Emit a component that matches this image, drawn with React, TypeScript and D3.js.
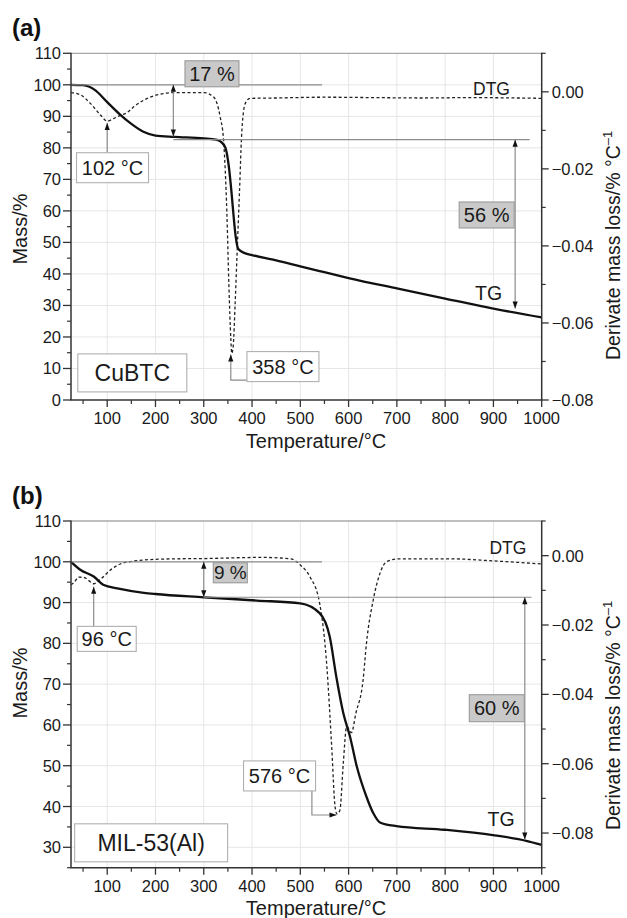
import * as d3 from "d3";

const FONT = "'Liberation Sans', Arial, Helvetica, sans-serif";

// shared temperature axis
const tempDomain = [25, 1000];
const tempMajor = [100, 200, 300, 400, 500, 600, 700, 800, 900, 1000];
const tempMinor = [50, 150, 250, 350, 450, 550, 650, 750, 850, 950];

// (a) CuBTC - TG curve
const tgTempA = [25, 50, 75, 100, 125, 150, 175, 200, 240, 300, 325, 335, 345, 352, 358, 362, 366, 372, 385, 400, 450, 500, 540, 600, 700, 800, 900, 1000];
const tgMassA = [100, 99.9, 98.3, 94.5, 90.8, 87.6, 85.1, 83.9, 83.5, 83.0, 82.6, 82, 80, 74, 65, 58, 52, 47.8, 46.6, 46, 44.3, 42.4, 40.9, 38.7, 35.4, 32.2, 29, 26.2];
// (a) CuBTC - DTG curve
const dtgTempA = [25, 45, 65, 86, 100, 114, 127, 140, 155, 183, 210, 240, 300, 320, 334, 341, 348, 352, 356, 358, 361, 365, 369, 374, 379, 386, 396, 450, 550, 650, 750, 850, 950, 1000];
const dtgValA = [-0.0002, -0.0008, -0.003, -0.006, -0.0076, -0.0069, -0.0061, -0.0055, -0.0039, -0.0017, -0.0006, -0.0002, -0.0002, -0.0013, -0.0065, -0.0125, -0.032, -0.05, -0.064, -0.0679, -0.066, -0.055, -0.042, -0.026, -0.0099, -0.003, -0.0017, -0.0016, -0.0014, -0.0015, -0.0016, -0.0015, -0.0016, -0.0017];

// (b) MIL-53(Al) - TG curve
const tgTempB = [25, 45, 72, 93, 121, 176, 200, 300, 410, 500, 540, 561, 575, 589, 603, 617, 637, 651, 665, 699, 799, 899, 968, 1000];
const tgMassB = [100, 98, 96.4, 94.3, 93.5, 92.4, 92.1, 91.3, 90.5, 89.8, 87.4, 81.6, 71.5, 62.9, 57.1, 49.8, 42.4, 38.4, 36.1, 35.2, 34.3, 33, 31.6, 30.6];
// (b) MIL-53(Al) - DTG curve
const dtgTempB = [25, 31, 41, 52, 62, 72, 86, 107, 127, 148, 210, 313, 417, 480, 500, 520, 540, 555, 565, 572, 576, 582, 589, 596, 606, 615, 630, 637, 651, 665, 679, 706, 809, 899, 1000];
const dtgValB = [-0.0084, -0.0078, -0.0062, -0.0063, -0.0072, -0.0081, -0.0068, -0.0041, -0.0024, -0.0017, -0.001, -0.0008, -0.0005, -0.0009, -0.0027, -0.0061, -0.0137, -0.032, -0.0551, -0.0724, -0.0745, -0.0734, -0.0599, -0.0493, -0.051, -0.0455, -0.0359, -0.0253, -0.0128, -0.0051, -0.0017, -0.0009, -0.0009, -0.0015, -0.0024];

// axis ticks
const massMajorA = [0, 10, 20, 30, 40, 50, 60, 70, 80, 90, 100, 110];
const massMinorA = [5, 15, 25, 35, 45, 55, 65, 75, 85, 95, 105];
const dtgMajorA = [-0.08, -0.06, -0.04, -0.02, 0];
const dtgMinorA = [-0.07, -0.05, -0.03, -0.01, 0.01];
const massMajorB = [30, 40, 50, 60, 70, 80, 90, 100, 110];
const massMinorB = [25, 35, 45, 55, 65, 75, 85, 95, 105];
const dtgMajorB = [-0.08, -0.06, -0.04, -0.02, 0];
const dtgMinorB = [-0.09, -0.07, -0.05, -0.03, -0.01, 0.01];

const X0 = 71;
const X1 = 541.7;
const H = 346.7;

type Pt = [number, number];

function Arrow({ pts, start = false, end = true }: { pts: Pt[]; start?: boolean; end?: boolean }) {
  const head = (tip: Pt, from: Pt) => {
    const dx = tip[0] - from[0];
    const dy = tip[1] - from[1];
    const len = Math.hypot(dx, dy) || 1;
    const ux = dx / len, uy = dy / len;
    const bx = tip[0] - ux * 7, by = tip[1] - uy * 7;
    return `M${tip[0]},${tip[1]}L${bx - uy * 2.6},${by + ux * 2.6}L${bx + uy * 2.6},${by - ux * 2.6}Z`;
  };
  return (
    <g>
      <polyline points={pts.map((p) => p.join(",")).join(" ")} fill="none" stroke="#8c8c8c" strokeWidth={1.2} />
      {end && <path d={head(pts[pts.length - 1], pts[pts.length - 2])} fill="#111" />}
      {start && <path d={head(pts[0], pts[1])} fill="#111" />}
    </g>
  );
}

function Box({ cx, cy, w, h, text, gray = false, size = 20 }: { cx: number; cy: number; w: number; h: number; text: string; gray?: boolean; size?: number }) {
  return (
    <g>
      <rect x={cx - w / 2} y={cy - h / 2} width={w} height={h} fill={gray ? "#c9c9c9" : "#fff"} stroke={gray ? "#9a9a9a" : "#b0b0b0"} strokeWidth={1.1} />
      <text x={cx} y={cy} textAnchor="middle" dominantBaseline="central" fontSize={size} fill="#1a1a1a">{text}</text>
    </g>
  );
}

type Scales = { x: d3.ScaleLinear<number, number>; y: d3.ScaleLinear<number, number>; r: d3.ScaleLinear<number, number> };

function Panel(props: {
  top: number; letter: string; massDomain: number[]; dtgDomain: number[];
  massMajor: number[]; massMinor: number[]; dtgMajor: number[]; dtgMinor: number[];
  tgT: number[]; tgM: number[]; dtgT: number[]; dtgV: number[];
  titleMassY: number; titleDtgY: number;
  notes: (s: Scales) => any;
}) {
  const { top } = props;
  const bottom = top + H;
  const x = d3.scaleLinear().domain(tempDomain).range([X0, X1]);
  const y = d3.scaleLinear().domain(props.massDomain).range([bottom, top]);
  const r = d3.scaleLinear().domain(props.dtgDomain).range([bottom, top]);
  const fmt = d3.format(".2f");

  const tgLine = d3.line<number>().x((d, i) => x(props.tgT[i])).y((d) => y(d)).curve(d3.curveMonotoneX);
  const dtgLine = d3.line<number>().x((d, i) => x(props.dtgT[i])).y((d) => r(d)).curve(d3.curveMonotoneX);

  return (
    <g>
      <text x={12} y={top - 17} fontSize={24} fontWeight="bold" fill="#111">{props.letter}</text>

      {/* grid */}
      {tempMajor.filter((t) => t < 1000).map((t) => (
        <line key={"gx" + t} x1={x(t)} x2={x(t)} y1={top} y2={bottom} stroke="#e6e6e6" strokeWidth={1} />
      ))}
      {props.massMajor.filter((m) => m > props.massDomain[0] && m < props.massDomain[1]).map((m) => (
        <line key={"gy" + m} x1={X0} x2={X1} y1={y(m)} y2={y(m)} stroke="#e6e6e6" strokeWidth={1} />
      ))}
      <line x1={X0} x2={X1} y1={top} y2={top} stroke="#a8a8a8" strokeWidth={1.3} />

      {/* curves */}
      <path d={dtgLine(props.dtgV) || ""} fill="none" stroke="#222" strokeWidth={1.3} strokeDasharray="3 2.4" />
      <path d={tgLine(props.tgM) || ""} fill="none" stroke="#111" strokeWidth={2.3} />

      {props.notes({ x, y, r })}

      {/* left axis */}
      <line x1={X0} x2={X0} y1={top - 0.5} y2={bottom} stroke="#333" strokeWidth={1.5} />
      {props.massMajor.map((m) => (
        <g key={"lm" + m}>
          <line x1={X0 - 8} x2={X0} y1={y(m)} y2={y(m)} stroke="#333" strokeWidth={1.3} />
          <text x={X0 - 10} y={y(m)} textAnchor="end" dominantBaseline="central" fontSize={16.5} fill="#1a1a1a">{m}</text>
        </g>
      ))}
      {props.massMinor.map((m) => (
        <line key={"ln" + m} x1={X0 - 4} x2={X0} y1={y(m)} y2={y(m)} stroke="#333" strokeWidth={1.2} />
      ))}

      {/* bottom axis */}
      <line x1={X0 - 0.7} x2={X1 + 0.7} y1={bottom} y2={bottom} stroke="#333" strokeWidth={1.5} />
      {tempMajor.map((t) => (
        <g key={"bm" + t}>
          <line x1={x(t)} x2={x(t)} y1={bottom} y2={bottom + 7} stroke="#333" strokeWidth={1.3} />
          <text x={x(t)} y={bottom + 24} textAnchor="middle" fontSize={16.5} fill="#1a1a1a">{t}</text>
        </g>
      ))}
      {tempMinor.map((t) => (
        <line key={"bn" + t} x1={x(t)} x2={x(t)} y1={bottom} y2={bottom + 4} stroke="#333" strokeWidth={1.2} />
      ))}

      {/* right axis */}
      <line x1={X1} x2={X1} y1={top - 0.5} y2={bottom} stroke="#333" strokeWidth={1.5} />
      {props.dtgMajor.map((v) => (
        <g key={"rm" + v}>
          <line x1={X1} x2={X1 + 7} y1={r(v)} y2={r(v)} stroke="#333" strokeWidth={1.3} />
          <text x={X1 + 10} y={r(v)} dominantBaseline="central" fontSize={16.5} fill="#1a1a1a">{fmt(v).replace("-", "\u2013")}</text>
        </g>
      ))}
      {props.dtgMinor.map((v) => (
        <line key={"rn" + v} x1={X1} x2={X1 + 4} y1={r(v)} y2={r(v)} stroke="#333" strokeWidth={1.2} />
      ))}

      {/* axis titles */}
      <text x={316} y={bottom + 47.5} textAnchor="middle" fontSize={20} fill="#1a1a1a">Temperature/°C</text>
      <text transform={`translate(27,${props.titleMassY}) rotate(-90)`} textAnchor="middle" fontSize={20} fill="#1a1a1a">Mass/%</text>
      <text transform={`translate(620,${props.titleDtgY}) rotate(-90)`} textAnchor="start" fontSize={19.5} fill="#1a1a1a">
        Derivate mass loss/% °C<tspan fontSize={13} dy={-8}>–1</tspan>
      </text>
    </g>
  );
}

function notesA({ x, y, r }: Scales) {
  const b358 = { cx: x(464), cy: y(10.6), w: 72, h: 30 };
  const b102 = { cx: x(111), cy: y(73.7), w: 72, h: 30 };
  return (
    <g>
      <line x1={X0} x2={x(545)} y1={y(100)} y2={y(100)} stroke="#8c8c8c" strokeWidth={1.2} />
      <line x1={x(237)} x2={x(975)} y1={y(82.6)} y2={y(82.6)} stroke="#8c8c8c" strokeWidth={1.2} />
      <Arrow pts={[[x(237), y(100)], [x(237), y(83.6)]]} start end />
      <Arrow pts={[[x(945), y(82.6)], [x(945), y(29)]]} start end />
      <Box cx={x(317)} cy={y(103.5)} w={54} h={26} text="17 %" gray />
      <Box cx={x(886)} cy={y(58.7)} w={55} h={26} text="56 %" gray />
      <Arrow pts={[[x(100), b102.cy - b102.h / 2], [x(100), r(-0.0076) + 2]]} />
      <Box {...b102} text="102 °C" />
      <Arrow pts={[[b358.cx - b358.w / 2, b358.cy + b358.h / 2 - 1.5], [x(356), b358.cy + b358.h / 2 - 1.5], [x(356), r(-0.0679) + 1]]} />
      <Box {...b358} text="358 °C" />
      <Box cx={x(152)} cy={y(8.6)} w={109} h={38} text="CuBTC" size={23} />
      <text x={x(890)} y={y(34)} textAnchor="middle" dominantBaseline="central" fontSize={19.5} fill="#1a1a1a">TG</text>
      <text x={x(896)} y={y(98.8)} textAnchor="middle" dominantBaseline="central" fontSize={17.5} fill="#1a1a1a">DTG</text>
    </g>
  );
}

function notesB({ x, y, r }: Scales) {
  const b96 = { cx: x(99), cy: y(81.1), w: 59, h: 25 };
  const b576 = { cx: x(457), cy: y(47.5), w: 72, h: 30 };
  return (
    <g>
      <line x1={X0} x2={x(545)} y1={y(100)} y2={y(100)} stroke="#8c8c8c" strokeWidth={1.2} />
      <line x1={x(300)} x2={x(979)} y1={y(91.3)} y2={y(91.3)} stroke="#8c8c8c" strokeWidth={1.2} />
      <Arrow pts={[[x(300), y(100)], [x(300), y(91.3)]]} start end />
      <Arrow pts={[[x(965), y(91.3)], [x(965), y(31.9)]]} start end />
      <Box cx={x(355)} cy={y(97.3)} w={34} h={20} text="9 %" gray size={19} />
      <Box cx={x(907)} cy={y(64.1)} w={55} h={27} text="60 %" gray />
      <Arrow pts={[[x(72), b96.cy - b96.h / 2], [x(72), r(-0.0081) + 3]]} />
      <Box {...b96} text="96 °C" />
      <Arrow pts={[[x(524), b576.cy + b576.h / 2], [x(524), r(-0.0748)], [x(575), r(-0.0748)]]} />
      <Box {...b576} text="576 °C" />
      <Box cx={x(191)} cy={y(31.1)} w={153} h={38} text="MIL-53(Al)" size={23} />
      <text x={x(916)} y={y(36.9)} textAnchor="middle" dominantBaseline="central" fontSize={19.5} fill="#1a1a1a">TG</text>
      <text x={x(930)} y={y(103.3)} textAnchor="middle" dominantBaseline="central" fontSize={17.5} fill="#1a1a1a">DTG</text>
    </g>
  );
}

export default function App() {
  return (
    <svg width={627} height={918} style={{ position: "absolute", left: 0, top: 0, background: "#fff" }} fontFamily={FONT}>
      <Panel
        top={53.3} letter="(a)" massDomain={[0, 110]} dtgDomain={[-0.08, 0.01]}
        massMajor={massMajorA} massMinor={massMinorA} dtgMajor={dtgMajorA} dtgMinor={dtgMinorA}
        tgT={tgTempA} tgM={tgMassA} dtgT={dtgTempA} dtgV={dtgValA}
        titleMassY={229} titleDtgY={360}
        notes={notesA}
      />
      <Panel
        top={521} letter="(b)" massDomain={[25, 110]} dtgDomain={[-0.09, 0.01]}
        massMajor={massMajorB} massMinor={massMinorB} dtgMajor={dtgMajorB} dtgMinor={dtgMinorB}
        tgT={tgTempB} tgM={tgMassB} dtgT={dtgTempB} dtgV={dtgValB}
        titleMassY={683} titleDtgY={830}
        notes={notesB}
      />
    </svg>
  );
}
